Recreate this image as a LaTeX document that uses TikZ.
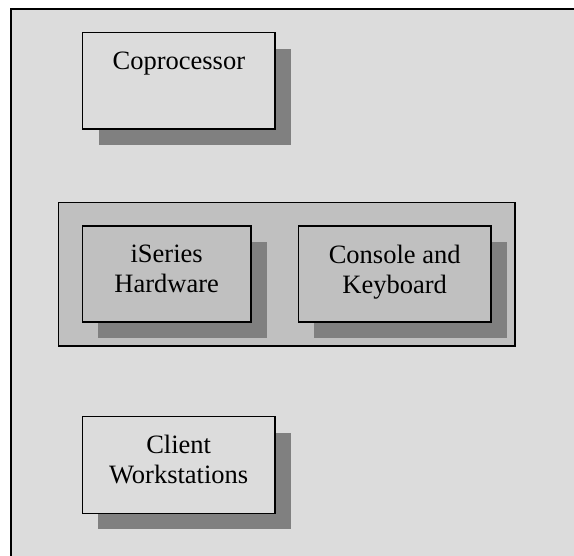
\documentclass[tikz,border=0pt]{standalone}
\usepackage{fontspec}
\setmainfont{Liberation Serif}
\usetikzlibrary{shadows}
\definecolor{bgc}{RGB}{220,220,220}
\definecolor{grp}{RGB}{192,192,192}
\definecolor{shd}{RGB}{128,128,128}
\begin{document}
\begin{tikzpicture}[x=1pt,y=-1pt,
  frm/.style={draw=black, line width=1.5pt, inner sep=0pt, outer sep=0pt},
  box/.style={frm, drop shadow={shadow xshift=16pt, shadow yshift=-16pt, fill=shd, opacity=1}},
  lbl/.style={anchor=north, inner sep=0pt, align=center, font=\fontsize{26.5}{30}\selectfont}]
\useasboundingbox (0,0) rectangle (574,556);
\clip (0,0) rectangle (574,556);
\fill[white] (0,0) rectangle (574,556);
\node[frm, fill=bgc, minimum width=620pt, minimum height=620pt, anchor=north west] (frame) at (11,9) {};
% Coprocessor
\node[box, fill=bgc, minimum width=192.3pt, minimum height=96.3pt] (cop) at (178.85,80.85) {};
\node[lbl] (copt) at ([yshift=-19pt]cop.north) {Coprocessor};
% group
\node[frm, fill=grp, minimum width=456.7pt, minimum height=143.7pt] (grp) at (286.65,274.15) {};
\node[box, fill=grp, minimum width=168.7pt, minimum height=96pt] (ise) at (166.65,274) {};
\node[lbl] (iset) at ([yshift=-18.5pt]ise.north) {iSeries\\Hardware};
\node[box, fill=grp, minimum width=192.7pt, minimum height=96pt] (con) at (394.65,274) {};
\node[lbl] (cont) at ([yshift=-18.5pt]con.north) {Console and\\Keyboard};
% Client
\node[box, fill=bgc, minimum width=192.7pt, minimum height=96.6pt] (cli) at (178.65,465) {};
\node[lbl] (clit) at ([yshift=-18.5pt]cli.north) {Client\\Workstations};
\end{tikzpicture}
\end{document}
